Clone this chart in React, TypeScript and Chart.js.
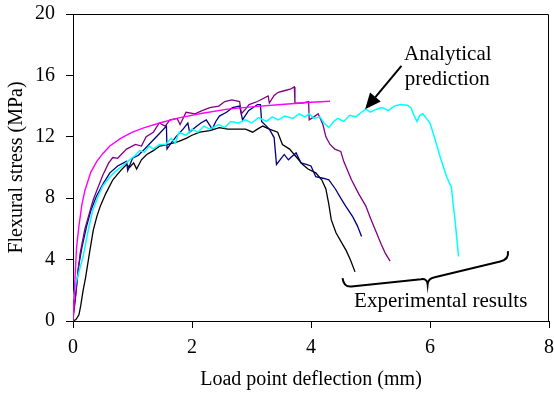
import React, { useEffect, useRef } from "react";
import { Chart, registerables } from "chart.js";

Chart.register(...registerables);

type P = [number, number];

const xTicksMax = 8;
const yTicksMax = 20;

const analytical: P[] = [
  [0, 0], [0.03, 2.5], [0.06, 4.8], [0.1, 6.2], [0.15, 7.6], [0.2, 8.5], [0.3, 9.7],
  [0.4, 10.4], [0.5, 10.9], [0.62, 11.4], [0.8, 11.9], [1.0, 12.3], [1.2, 12.6],
  [1.5, 12.95], [1.8, 13.25], [2.2, 13.55], [2.6, 13.8], [3.0, 13.95], [3.5, 14.1],
  [4.0, 14.25], [4.32, 14.32],
];

const cyanTest: P[] = [
  [0, 1.4], [0.05, 2.5], [0.1, 3.2], [0.17, 4.2], [0.25, 5.8], [0.33, 7.2], [0.42, 8.1],
  [0.5, 8.8], [0.6, 9.3], [0.7, 9.7], [0.83, 10.1], [0.95, 10.5], [1.05, 10.8], [1.12, 11.1],
  [1.2, 11.0], [1.28, 11.4], [1.35, 11.2], [1.45, 11.5], [1.56, 11.5], [1.65, 11.9],
  [1.72, 11.6], [1.78, 12.3], [1.9, 12.1], [2.0, 12.5], [2.1, 12.3], [2.2, 12.7], [2.3, 12.5],
  [2.45, 12.8], [2.55, 12.6], [2.65, 13.0], [2.78, 12.9], [2.9, 13.1], [3.0, 12.9],
  [3.12, 13.25], [3.25, 13.0], [3.35, 13.3], [3.45, 13.1], [3.56, 13.35], [3.7, 13.2],
  [3.8, 13.5], [3.9, 13.3], [3.97, 13.5], [4.05, 13.2], [4.15, 13.3], [4.22, 12.9],
  [4.3, 12.6], [4.38, 13.0], [4.45, 13.2], [4.55, 13.0], [4.65, 13.4], [4.75, 13.3],
  [4.85, 13.6], [4.92, 13.8], [5.0, 13.6], [5.1, 13.8], [5.2, 13.9], [5.3, 13.7],
  [5.4, 14.0], [5.5, 14.1], [5.62, 14.05], [5.68, 13.9], [5.73, 13.4], [5.78, 13.0],
  [5.83, 13.4], [5.88, 13.5], [5.94, 13.2], [6.0, 12.9], [6.08, 11.9], [6.17, 10.7],
  [6.28, 9.4], [6.36, 8.7], [6.39, 7.6], [6.42, 6.6], [6.45, 5.4], [6.48, 4.2],
];

const purpleTest: P[] = [
  [0, 0], [0.04, 1.5], [0.08, 3.0], [0.12, 4.4], [0.2, 6.0], [0.34, 7.9], [0.5, 9.5],
  [0.6, 10.3], [0.67, 10.65], [0.75, 10.6], [0.9, 11.2], [1.05, 11.5], [1.15, 11.4],
  [1.23, 12.0], [1.35, 12.3], [1.45, 12.9], [1.55, 12.7], [1.63, 13.1], [1.75, 13.2],
  [1.8, 12.8], [1.9, 13.6], [2.05, 13.5], [2.17, 13.7], [2.3, 13.9], [2.45, 14.0],
  [2.55, 14.3], [2.67, 14.4], [2.8, 14.3], [2.83, 13.5], [2.9, 13.8], [2.96, 14.1],
  [3.1, 14.3], [3.28, 14.66], [3.3, 14.2], [3.38, 14.7], [3.45, 14.9], [3.55, 15.0],
  [3.65, 15.1], [3.72, 15.25], [3.73, 14.2], [3.85, 14.2], [3.96, 14.3], [3.97, 13.1],
  [4.05, 13.3], [4.12, 13.5], [4.2, 12.8], [4.25, 12.0], [4.32, 11.5], [4.4, 11.2],
  [4.5, 11.05], [4.55, 10.4], [4.68, 9.2], [4.8, 8.3], [4.92, 7.5], [5.0, 6.7],
  [5.08, 5.95], [5.18, 5.0], [5.25, 4.4], [5.33, 3.9],
];

const navyTest: P[] = [
  [0, 0.3], [0.04, 1.5], [0.09, 3.5], [0.15, 4.8], [0.23, 6.2], [0.3, 7.2], [0.39, 8.1],
  [0.5, 8.9], [0.62, 9.65], [0.75, 10.1], [0.9, 10.4], [0.92, 9.8], [1.0, 10.6], [1.1, 10.8],
  [1.17, 11.07], [1.3, 11.6], [1.45, 12.2], [1.57, 12.7], [1.58, 11.2], [1.65, 11.6],
  [1.73, 12.0], [1.85, 12.5], [1.93, 12.9], [1.96, 12.3], [2.05, 12.6], [2.15, 12.9],
  [2.24, 13.1], [2.34, 12.5], [2.4, 13.0], [2.46, 13.35], [2.58, 13.6], [2.68, 13.9],
  [2.8, 14.0], [2.85, 13.1], [2.95, 13.7], [3.1, 14.1], [3.15, 14.1], [3.17, 13.0],
  [3.3, 12.5], [3.38, 11.95], [3.42, 10.2], [3.55, 10.85], [3.62, 10.5], [3.66, 10.65],
  [3.75, 10.95], [3.83, 10.3], [3.92, 10.2], [4.0, 10.1], [4.08, 9.4], [4.2, 9.3],
  [4.3, 9.2], [4.41, 8.6], [4.5, 8.0], [4.58, 7.5], [4.7, 6.8], [4.78, 6.2], [4.85, 5.5],
];

const blackTest: P[] = [
  [0, 0], [0.05, 0.1], [0.1, 0.4], [0.13, 1.0], [0.17, 2.0], [0.21, 2.8], [0.28, 4.5],
  [0.34, 5.9], [0.4, 6.8], [0.46, 7.5], [0.55, 8.3], [0.67, 9.2], [0.8, 9.8], [0.9, 10.2],
  [0.95, 10.0], [1.02, 10.3], [1.07, 9.9], [1.15, 10.5], [1.24, 10.85], [1.35, 11.1],
  [1.46, 11.4], [1.6, 11.5], [1.78, 11.7], [1.9, 11.9], [2.0, 12.1], [2.13, 12.3],
  [2.3, 12.4], [2.46, 12.6], [2.6, 12.5], [2.75, 12.5], [2.9, 12.5], [3.02, 12.3],
  [3.1, 12.5], [3.19, 12.7], [3.3, 12.5], [3.44, 12.3], [3.52, 11.5], [3.64, 11.2],
  [3.75, 10.7], [3.86, 10.2], [3.95, 9.9], [4.08, 9.65], [4.18, 9.2], [4.25, 8.6],
  [4.3, 7.6], [4.34, 6.6], [4.42, 5.75], [4.5, 5.2], [4.59, 4.6], [4.66, 4.0], [4.74, 3.2],
];

const xTitle = "Load point deflection (mm)";
const yTitle = "Flexural stress (MPa)";
const analyticalLabel = ["Analytical", "prediction"];
const experimentalLabel = "Experimental results";

// annotation anchors in data units
const analyticalTextAt: P[] = [[6.3, 17.39], [6.29, 15.75]];
const arrowFrom: P = [5.52, 16.62];
const arrowTo: P = [4.91, 13.79];
const experimentalTextAt: P = [6.18, 1.3];
const braceLeft: P[] = [[4.53, 2.8], [4.55, 2.2], [4.68, 2.25]];
const braceLeftArm: P = [5.85, 2.72];
const braceCusp: P[] = [[5.95, 2.78], [5.96, 2.4]];
const braceRightStart: P[] = [[5.97, 2.78], [6.08, 2.85]];
const braceRightArm: P = [7.18, 3.88];
const braceRight: P[] = [[7.33, 4.0], [7.31, 4.55]];

const FONT = "'Liberation Serif', 'Times New Roman', serif";

const toXY = (d: P[]) => d.map(([x, y]) => ({ x, y }));

export default function App() {
  const ref = useRef<HTMLCanvasElement | null>(null);

  useEffect(() => {
    if (!ref.current) return;

    const annotationPlugin = {
      id: "annotations",
      afterDraw(chart: any) {
        const { ctx, chartArea, scales } = chart;
        const xs = scales.x;
        const ys = scales.y;
        const px = (p: P) => [xs.getPixelForValue(p[0]), ys.getPixelForValue(p[1])];
        ctx.save();
        // frame
        ctx.strokeStyle = "#000";
        ctx.lineWidth = 1;
        ctx.beginPath();
        ctx.moveTo(chartArea.left, chartArea.top + 0.5);
        ctx.lineTo(chartArea.right - 0.5, chartArea.top + 0.5);
        ctx.lineTo(chartArea.right - 0.5, chartArea.bottom);
        ctx.stroke();

        // texts
        ctx.fillStyle = "#000";
        ctx.font = `21px ${FONT}`;
        ctx.textAlign = "center";
        ctx.textBaseline = "middle";
        analyticalLabel.forEach((t, i) => {
          const [x, y] = px(analyticalTextAt[i]);
          ctx.fillText(t, x, y);
        });
        {
          const [x, y] = px(experimentalTextAt);
          ctx.fillText(experimentalLabel, x, y);
        }

        // arrow
        const [ax0, ay0] = px(arrowFrom);
        const [ax1, ay1] = px(arrowTo);
        const ang = Math.atan2(ay1 - ay0, ax1 - ax0);
        const headLen = 16;
        const headW = 7;
        const bx = ax1 - headLen * Math.cos(ang);
        const by = ay1 - headLen * Math.sin(ang);
        ctx.lineWidth = 2;
        ctx.beginPath();
        ctx.moveTo(ax0, ay0);
        ctx.lineTo(bx, by);
        ctx.stroke();
        ctx.beginPath();
        ctx.moveTo(ax1, ay1);
        ctx.lineTo(bx + headW * Math.sin(ang), by - headW * Math.cos(ang));
        ctx.lineTo(bx - headW * Math.sin(ang), by + headW * Math.cos(ang));
        ctx.closePath();
        ctx.fill();

        // brace
        ctx.lineWidth = 2;
        ctx.beginPath();
        const s = px(braceLeft[0]);
        ctx.moveTo(s[0], s[1]);
        let c = px(braceLeft[1]);
        let e = px(braceLeft[2]);
        ctx.quadraticCurveTo(c[0], c[1], e[0], e[1]);
        e = px(braceLeftArm);
        ctx.lineTo(e[0], e[1]);
        c = px(braceCusp[0]);
        e = px(braceCusp[1]);
        ctx.quadraticCurveTo(c[0], c[1], e[0], e[1]);
        c = px(braceRightStart[0]);
        e = px(braceRightStart[1]);
        ctx.quadraticCurveTo(c[0], c[1], e[0], e[1]);
        e = px(braceRightArm);
        ctx.lineTo(e[0], e[1]);
        c = px(braceRight[0]);
        e = px(braceRight[1]);
        ctx.quadraticCurveTo(c[0], c[1], e[0], e[1]);
        ctx.stroke();
        ctx.restore();
      },
    };

    const mk = (data: P[], color: string, width = 1.3) => ({
      data: toXY(data),
      borderColor: color,
      backgroundColor: color,
      borderWidth: width,
      pointRadius: 0,
      tension: 0,
      fill: false,
    });

    const chart = new Chart(ref.current, {
      type: "line",
      data: {
        datasets: [
          mk(analytical, "#FF00FF", 1.4),
          mk(cyanTest, "#00FFFF", 1.5),
          mk(purpleTest, "#800080"),
          mk(navyTest, "#000080"),
          mk(blackTest, "#000000"),
        ],
      },
      options: {
        responsive: false,
        animation: false,
        layout: { padding: { top: 14, right: 5, left: 0, bottom: 0 } },
        plugins: {
          legend: { display: false },
          tooltip: { enabled: false },
        },
        scales: {
          x: {
            type: "linear",
            min: 0,
            max: xTicksMax,
            afterFit: (s: any) => {
              s.height = 73;
              s.paddingLeft = 0;
              s.paddingRight = 0;
            },
            ticks: {
              stepSize: 2,
              color: "#000",
              padding: 8,
              font: { family: FONT, size: 20 },
              maxRotation: 0,
            },
            grid: {
              display: true,
              drawOnChartArea: false,
              drawTicks: true,
              tickLength: 7,
              tickColor: "#000",
            },
            border: { display: true, color: "#000", width: 1 },
            title: {
              display: true,
              text: xTitle,
              color: "#000",
              font: { family: FONT, size: 20 },
              padding: { top: 0, bottom: 2 },
            },
          },
          y: {
            type: "linear",
            min: 0,
            max: yTicksMax,
            afterFit: (s: any) => {
              s.width = 73;
              s.paddingTop = 0;
              s.paddingBottom = 0;
            },
            ticks: {
              stepSize: 4,
              color: "#000",
              padding: 11,
              font: { family: FONT, size: 20 },
            },
            grid: {
              display: true,
              drawOnChartArea: false,
              drawTicks: true,
              tickLength: 7,
              tickColor: "#000",
            },
            border: { display: true, color: "#000", width: 1 },
            title: {
              display: true,
              text: yTitle,
              color: "#000",
              font: { family: FONT, size: 20 },
              padding: { top: 5, bottom: 4 },
            },
          },
        },
      },
      plugins: [annotationPlugin],
    } as any);

    return () => chart.destroy();
  }, []);

  return (
    <div style={{ position: "fixed", left: 0, top: 0, width: 554, height: 394, background: "#fff" }}>
      <canvas ref={ref} width={554} height={394} />
    </div>
  );
}
